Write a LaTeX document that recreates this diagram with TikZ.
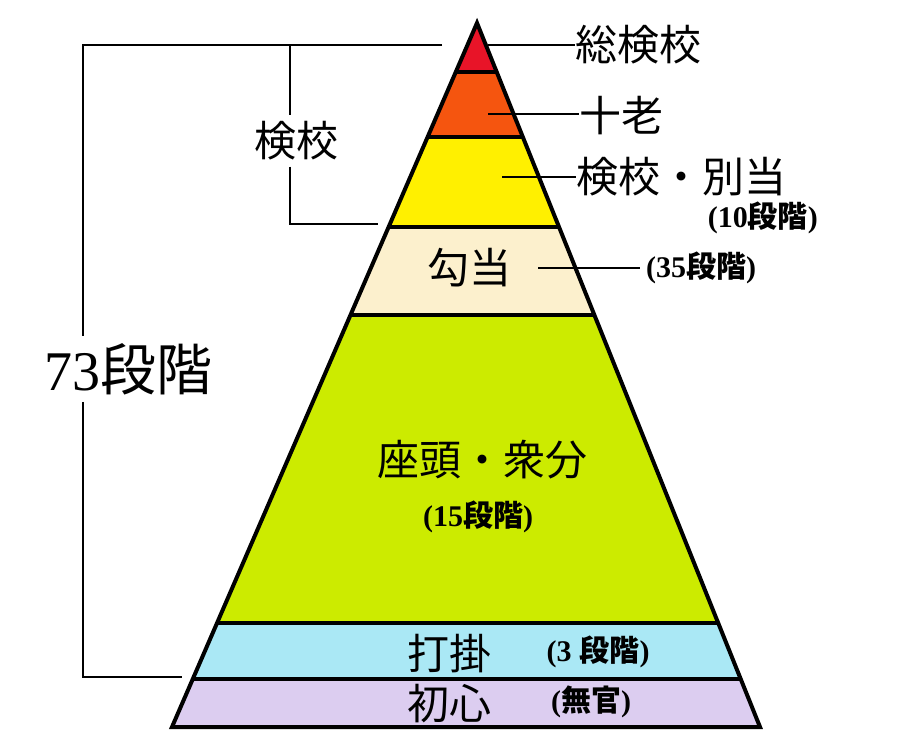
\documentclass[tikz,border=0pt]{standalone}
\usepackage{fontspec}
\setmainfont{Liberation Serif}
\newfontfamily\jp{Noto Sans CJK JP}

\definecolor{cRed}{RGB}{232,20,40}
\definecolor{cOrange}{RGB}{245,85,15}
\definecolor{cYellow}{RGB}{255,240,0}
\definecolor{cCream}{RGB}{252,240,205}
\definecolor{cGreen}{RGB}{204,235,0}
\definecolor{cCyan}{RGB}{170,232,245}
\definecolor{cLilac}{RGB}{220,205,240}

\tikzset{
  rank/.style={font=\jp\fontsize{42}{48}\selectfont, inner sep=0pt},
  count/.style={font=\bfseries\fontsize{30}{36}\selectfont, inner sep=0pt},
  leader/.style={line width=2.2pt},
  outline/.style={line width=4pt}
}

\begin{document}
\begin{tikzpicture}[x=1pt, y=-1pt]
    \useasboundingbox (0,0) rectangle (913,751);

    % Corners of the pyramid
    \coordinate (apex) at (477,23);
    \coordinate (bl) at (172,727);
    \coordinate (br) at (760,727);

    % Coloured bands, cut to the pyramid
    \begin{scope}
        \clip (apex) -- (bl) -- (br) -- cycle;
        \fill[cRed] (0,0) rectangle (913,72);
        \fill[cOrange] (0,72) rectangle (913,137);
        \fill[cYellow] (0,137) rectangle (913,227);
        \fill[cCream] (0,227) rectangle (913,315);
        \fill[cGreen] (0,315) rectangle (913,623);
        \fill[cCyan] (0,623) rectangle (913,679);
        \fill[cLilac] (0,679) rectangle (913,751);
        \foreach \y in {72,137,227,315,623,679}
            \draw[outline] (0,\y) -- (913,\y);
    \end{scope}
    \draw[outline] (apex) -- (bl) -- (br) -- cycle;

    % Labels on the right
    \node[rank, anchor=west] (sokengyo) at (575,45) {総検校};
    \node[rank, anchor=west] (juro) at (579,116) {十老};
    \node[rank, anchor=west] (betto) at (576,177) {検校・別当};
    \node[count, anchor=east] (n10) at (818,218) {(10{\jp\bfseries 段階})};
    \coordinate (pSo) at (488,45);
    \coordinate (pJu) at (488,114);
    \coordinate (pBe) at (502,177);
    \draw[leader] (pSo) -- (pSo -| sokengyo.west);
    \draw[leader] (pJu) -- (pJu -| juro.west);
    \draw[leader] (pBe) -- (pBe -| betto.west);

    % Labels inside the pyramid
    \node[rank] (koto) at (469,268) {勾当};
    \node[count, anchor=west] (n35) at (646,268) {(35{\jp\bfseries 段階})};
    \draw[leader] ([xshift=27pt]koto.east) -- ([xshift=-6pt]n35.west);

    \node[rank] (zato) at (482,460) {座頭・衆分};
    \node[count] (n15) at (478,517) {(15{\jp\bfseries 段階})};

    \node[rank] (uchikake) at (449,654) {打掛};
    \node[count] (n3) at (598,652) {(3\hspace{8pt}{\jp\bfseries 段階})};
    \node[rank] (shoshin) at (449,704) {初心};
    \node[count] (mukan) at (591,702) {({\jp\bfseries 無官})};

    % Brackets on the left
    \node[rank, inner ysep=6pt] (kengyo) at (296,141) {検校};
    \coordinate (kTop) at (290,45);
    \coordinate (kBot) at (290,224);
    \coordinate (kEnd) at (378,224);
    \draw[leader] (kTop) -- (kTop |- kengyo.north);
    \draw[leader] (kTop |- kengyo.south) -- (kBot) -- (kEnd);

    \node[font=\fontsize{56}{60}\selectfont, inner sep=0pt, inner ysep=7pt] (total) at (128,369) {73{\jp 段階}};
    \coordinate (tTop) at (83,45);
    \coordinate (tTopEnd) at (442,45);
    \coordinate (tBot) at (83,677);
    \coordinate (tBotEnd) at (182,677);
    \draw[leader] (tTopEnd) -- (tTop) -- (tTop |- total.north);
    \draw[leader] (tTop |- total.south) -- (tBot) -- (tBotEnd);
\end{tikzpicture}
\end{document}
